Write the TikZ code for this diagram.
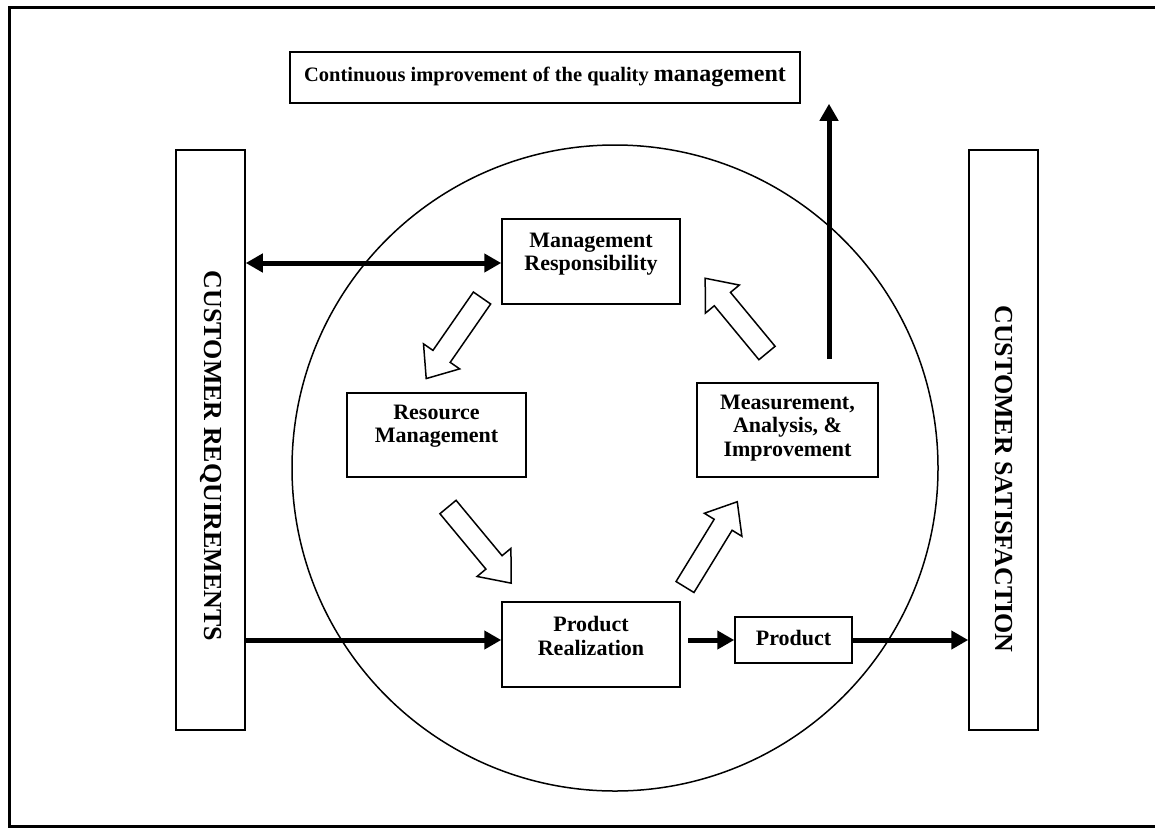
\documentclass[tikz,border=0pt]{standalone}
\usepackage{fontspec}
\setmainfont{Liberation Serif}
\usetikzlibrary{arrows.meta}
\newcommand\boxlblfont{\fontsize{22}{23.5}\selectfont\bfseries}
\newcommand\sidelblfont{\fontsize{26}{28}\selectfont\bfseries}
\begin{document}
\begin{tikzpicture}[x=1pt,y=-1pt,
  box/.style={draw, line width=1.5pt, inner sep=0pt},
  lbl/.style={font=\boxlblfont, align=center, inner sep=0pt},
  bar/.style={draw, line width=1.5pt, inner sep=0pt, minimum width=69pt, minimum height=580pt},
  sidelbl/.style={font=\sidelblfont, rotate=-90, inner sep=0pt},
  flow/.style={line width=5pt, -{Triangle[length=17pt,width=18pt]}},
  hollow/.style={draw, line width=1.5pt, fill=white, line join=miter}
]
\useasboundingbox (0,0) rectangle (1155,828);
\clip (0,0) rectangle (1155,828);
% outer frame
\draw[line width=3.5pt] (1160,7.3) -- (9.5,7.3) -- (9.5,826.5) -- (1160,826.5);
% circle
\draw[line width=1.5pt] (615,468) circle[radius=323];
% top box
\node[box, minimum width=510pt, minimum height=51pt] (top) at (545,77.5) {};
\node[lbl] (toptext) at (545,77) {\fontsize{20.5}{22}\selectfont Continuous improvement of the quality {\fontsize{24}{26}\selectfont management}};
% side bars
\node[bar] (lb) at (210.5,440) {};
\node[sidelbl] (lbt) at (210.5,456) {CUSTOMER REQUIREMENTS};
\node[bar] (rb) at (1003.5,440) {};
\node[sidelbl] (rbt) at (1003.5,479) {CUSTOMER SATISFACTION};
% process boxes
\node[box, minimum width=178pt, minimum height=85pt] (mr) at (591,261.5) {};
\node[lbl] (mrt) at (591,254) {Management\\Responsibility};
\node[box, minimum width=179pt, minimum height=84pt] (rm) at (436.5,435) {};
\node[lbl] (rmt) at (436.5,426) {Resource\\Management};
\node[box, minimum width=181pt, minimum height=94pt] (ma) at (787.5,430) {};
\node[lbl] (mat) at (787.5,428) {Measurement,\\Analysis, \&\\Improvement};
\node[box, minimum width=178pt, minimum height=85pt] (pr) at (591,644.5) {};
\node[lbl] (prt) at (591,636) {Product\\Realization};
\node[box, minimum width=117pt, minimum height=46pt] (prod) at (793.5,640) {};
\node[lbl] (prodt) at (793.5,638) {Product};
% solid connectors
\draw[line width=5pt, {Triangle[length=17pt,width=18pt]}-{Triangle[length=17pt,width=18pt]}] (lb.east |- 0,263) -- (mr.west |- 0,263);
\draw[flow] (lb.east |- 0,640) -- (pr.west |- 0,640);
\coordinate (g1) at (688,640);
\draw[flow] (g1) -- (prod.west |- g1);
\draw[flow] (prod.east |- g1) -- (rb.west |- g1);
\coordinate (vtail) at (829,359);
\draw[flow] (vtail) -- (vtail |- top.south);
% hollow block arrows
\foreach \x/\y/\a/\L in {482/298/235.3/98, 448/507/-50.3/99, 685/587/58.5/100, 767/353/129.6/97}{
  \begin{scope}[shift={(\x,\y)}, rotate=\a]
    \draw[hollow] (0,-10.5) -- (\L-27,-10.5) -- (\L-27,-22) -- (\L,0) -- (\L-27,22) -- (\L-27,10.5) -- (0,10.5) -- cycle;
  \end{scope}
}
\end{tikzpicture}
\end{document}
